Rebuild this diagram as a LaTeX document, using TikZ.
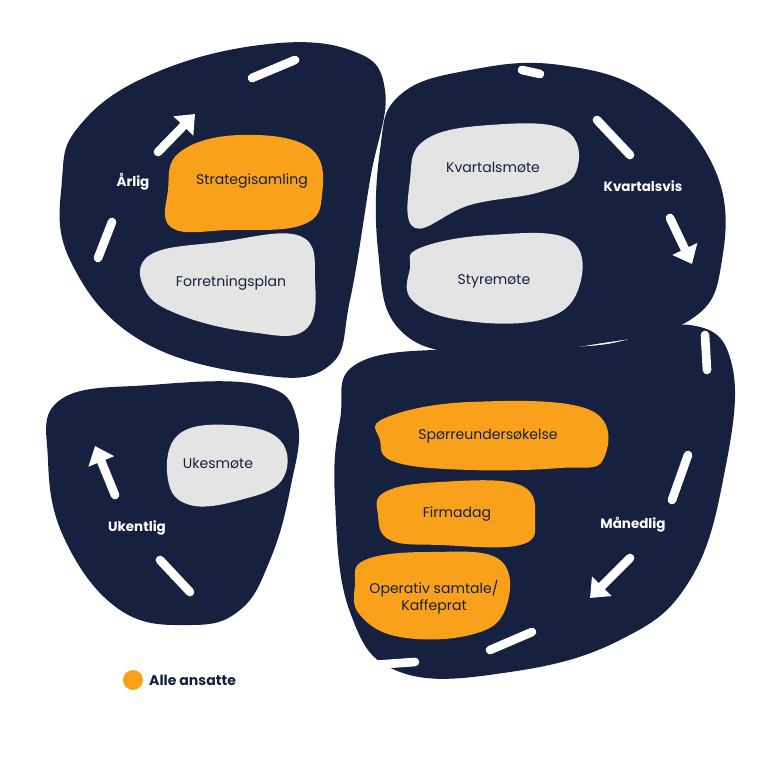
\documentclass[tikz,border=0pt]{standalone}
\usepackage{fontspec}
\setmainfont{Poppins}
\usetikzlibrary{arrows.meta}
\definecolor{navy}{HTML}{15213F}
\definecolor{allorange}{HTML}{F9A11B}
\definecolor{softgrey}{HTML}{E4E4E4}

\begin{document}
\begin{tikzpicture}[
    x=0.03cm, y=-0.03cm,
    blob/.style={fill=navy},
    orangeblob/.style={fill=allorange},
    greyblob/.style={fill=softgrey},
    dashline/.style={draw=white, line width=2.6mm, line cap=round},
    cyclearrow/.style={dashline, -{Triangle[width=8mm, length=5mm]}},
    period/.style={font=\bfseries\fontsize{11.5}{14}\selectfont, text=white},
    task/.style={font=\fontsize{12}{15}\selectfont, text=navy, align=center},
]
\useasboundingbox (0,0) rectangle (773,773);

% big blobs
\fill[blob] plot[smooth cycle, tension=0.7] coordinates {(80,125) (150,75) (260,45) (350,50) (385,90) (370,180) (350,300) (330,365) (260,375) (140,340) (70,260) (62,180)};
\fill[blob] plot[smooth cycle, tension=0.7] coordinates {(400,95) (470,70) (560,65) (650,95) (715,170) (722,260) (690,320) (590,345) (480,355) (400,330) (378,250) (380,150)};
\fill[blob] plot[smooth cycle, tension=0.7] coordinates {(60,400) (150,385) (260,385) (297,420) (290,490) (270,560) (240,610) (190,625) (120,610) (65,540) (48,460)};
\fill[blob] plot[smooth cycle, tension=0.7] coordinates {(360,362) (480,348) (600,345) (690,325) (732,365) (725,470) (690,580) (620,640) (510,672) (400,672) (350,612) (335,500) (340,420)};

% task blobs
\fill[orangeblob] plot[smooth cycle, tension=0.7] coordinates {(180,152) (240,135) (310,148) (322,195) (302,225) (230,230) (172,228) (168,190)};
\fill[greyblob] plot[smooth cycle, tension=0.7] coordinates {(150,255) (220,242) (300,236) (315,280) (305,330) (250,332) (180,315) (145,290)};
\fill[greyblob] plot[smooth cycle, tension=0.7] coordinates {(425,140) (490,125) (565,130) (576,172) (540,192) (470,205) (415,228) (410,180)};
\fill[greyblob] plot[smooth cycle, tension=0.7] coordinates {(420,248) (490,235) (570,240) (578,290) (540,320) (460,320) (412,300) (410,268)};
\fill[greyblob] plot[smooth cycle, tension=0.7] coordinates {(178,435) (230,425) (280,440) (282,480) (240,500) (190,505) (168,480)};
\fill[orangeblob] plot[smooth cycle, tension=0.7] coordinates {(385,418) (470,402) (590,410) (603,460) (560,468) (470,470) (395,462) (380,440)};
\fill[orangeblob] plot[smooth cycle, tension=0.7] coordinates {(385,492) (440,482) (520,485) (535,520) (520,545) (440,545) (390,540) (378,515)};
\fill[orangeblob] plot[smooth cycle, tension=0.7] coordinates {(365,560) (430,552) (500,560) (505,610) (470,635) (400,637) (360,615) (355,585)};

% task labels
\node[task] (strategi) at (252,181) {Strategisamling};
\node[task] (plan) at (231,283) {Forretningsplan};
\node[task] (kvartal) at (493,167) {Kvartalsmøte};
\node[task] (styre) at (494,281) {Styremøte};
\node[task] (ukes) at (218,463) {Ukesmøte};
\node[task] (sporre) at (488,436) {Spørreundersøkelse};
\node[task] (firma) at (457,514) {Firmadag};
\node[task] (operativ) at (434,597) {Operativ samtale/\\Kaffeprat};

% period labels
\node[period] (arlig) at (133,182) {Årlig};
\node[period] (kvartalsvis) at (643,186) {Kvartalsvis};
\node[period] (maanedlig) at (633,525) {Månedlig};
\node[period] (ukentlig) at (137,528) {Ukentlig};

% yearly cycle
\draw[dashline] (98,258) -- (112,222);
\draw[cyclearrow] (158,152) -- (195,114);
\draw[dashline] (252,78) -- (295,60);
% quarterly cycle
\draw[dashline] (522,70) -- (540,74);
\draw[dashline] (597,120) -- (630,155);
\draw[cyclearrow] (670,218) -- (692,264);
% monthly cycle
\draw[dashline] (705,335) -- (707,370);
\draw[dashline] (688,455) -- (672,500);
\draw[cyclearrow] (630,558) -- (590,598);
\draw[dashline] (532,632) -- (490,650);
\draw[dashline] (415,662) -- (372,665);
% weekly cycle
\draw[cyclearrow] (115,495) -- (95,446);
\draw[dashline] (160,560) -- (190,592);

% legend
\fill[allorange] (133,680) circle (10) coordinate (dot);
\node[font=\bfseries\fontsize{12}{15}\selectfont, text=navy, anchor=west] (legend) at (145,680) {Alle ansatte};
\end{tikzpicture}
\end{document}
